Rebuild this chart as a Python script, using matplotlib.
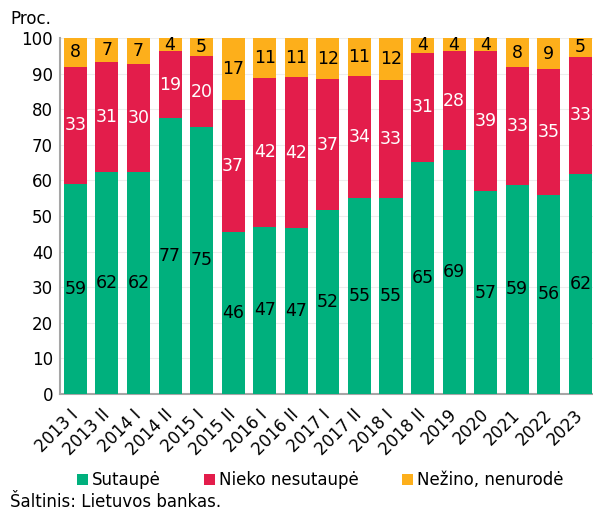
import numpy as np
import matplotlib
matplotlib.use("Agg")
import matplotlib.pyplot as plt
from matplotlib.patches import Patch

# data (proc.)
periods = ["2013 I", "2013 II", "2014 I", "2014 II", "2015 I", "2015 II",
           "2016 I", "2016 II", "2017 I", "2017 II", "2018 I", "2018 II",
           "2019", "2020", "2021", "2022", "2023"]
sutaupe = [59.0, 62.4, 62.3, 77.4, 75.0, 45.6, 47.0, 46.6, 51.6, 55.0, 55.0,
           65.2, 68.6, 57.0, 58.8, 55.9, 61.8]
nieko = [32.9, 30.8, 30.3, 18.9, 19.8, 37.0, 41.8, 42.3, 36.8, 34.2, 33.2,
         30.6, 27.6, 39.3, 33.0, 35.3, 32.9]
nezino = [8.1, 6.8, 7.4, 3.7, 5.2, 17.4, 11.2, 11.1, 11.6, 10.8, 11.8,
          4.2, 3.8, 3.7, 8.2, 8.8, 5.3]

series_names = ["Sutaupė", "Nieko nesutaupė", "Nežino, nenurodė"]
colors = ["#00B07D", "#E31D4B", "#FDAF1B"]
label_colors = ["black", "white", "black"]

plt.rcParams['font.family'] = ['DejaVu Sans']

fig = plt.figure(figsize=(5.93, 5.13), dpi=100)
ax = fig.add_axes([0.101, 0.232, 0.899, 0.694])

x = np.arange(len(periods))
bottom = np.zeros(len(periods))
for vals, col, lc in zip([sutaupe, nieko, nezino], colors, label_colors):
    vals = np.array(vals)
    bars = ax.bar(x, vals, width=0.73, bottom=bottom, color=col, zorder=3)
    ax.bar_label(bars, labels=["%.0f" % v for v in vals], label_type="center",
                 color=lc, fontsize=12.5)
    bottom += vals

ax.set_ylim(0, 100)
ax.set_xlim(-0.49, 16.4)
ax.set_yticks(np.arange(0, 101, 10))
ax.set_xticks(x)
ax.set_xticklabels(periods, rotation=45, ha="right", va="center",
                   rotation_mode="anchor")
ax.tick_params(axis="both", length=0, labelsize=12)
ax.tick_params(axis="y", pad=5)
ax.tick_params(axis="x", pad=13)
ax.grid(axis="y", color="#EDEDED", linewidth=0.8, zorder=0)
for s in ["top", "right"]:
    ax.spines[s].set_visible(False)
for s in ["left", "bottom"]:
    ax.spines[s].set_color("#A6A6A6")
    ax.spines[s].set_linewidth(1.5)

fig.text(0.017, 0.962, "Proc.", fontsize=12, va="center")

handles = [Patch(facecolor=c) for c in colors]
fig.legend(handles, series_names, loc="center", bbox_to_anchor=(0.54, 0.064),
           ncol=3, frameon=False, fontsize=12, handlelength=0.65,
           handleheight=0.65, handletextpad=0.25, columnspacing=2.6,
           borderpad=0.1)

fig.text(0.017, 0.022, "Šaltinis: Lietuvos bankas.", fontsize=12, va="center")

plt.savefig("out.png", dpi=100)
